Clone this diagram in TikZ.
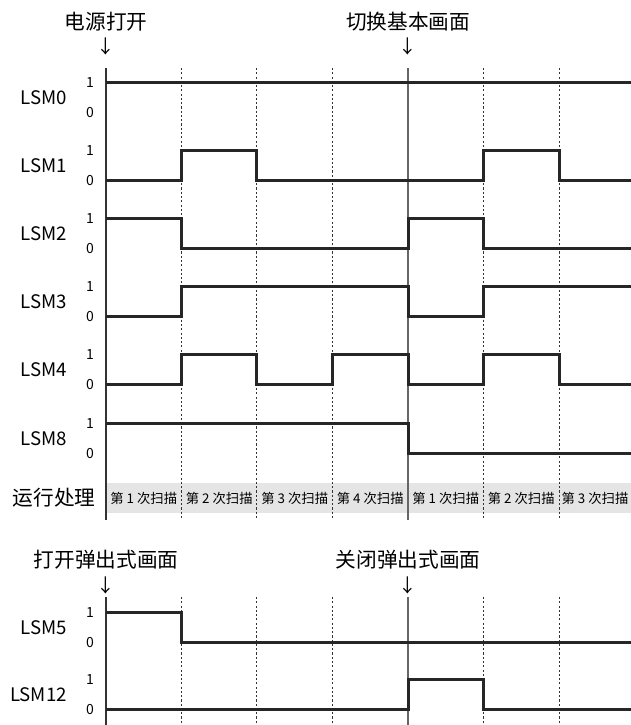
\documentclass[tikz,border=0pt]{standalone}
\usepackage{fontspec}
\setmainfont{Noto Sans CJK SC}
\usepackage{tikz}
\tikzset{
	sig/.style={line width=2.25pt, black!85},
	solidln/.style={line width=0.8pt, black!80},
	markln/.style={line width=0.9pt, black!60},
	dotln/.style={line width=0.7pt, black!80, dash pattern=on 1.6pt off 1.6pt},
	ttl/.style={font=\fontsize{15.5}{18}\selectfont, inner sep=0pt},
	arr/.style={font=\fontsize{14}{16}\selectfont, inner sep=0pt},
	nm/.style={font=\fontsize{14}{16}\selectfont, anchor=east, inner sep=0pt},
	lvl/.style={font=\fontsize{10.5}{12}\selectfont, inner sep=0pt},
	scan/.style={font=\fontsize{10}{12}\selectfont, inner sep=0pt},
	band/.style={fill=black!10, draw=none},
}
\newcommand{\lvhi}{0}
\newcommand{\lvlo}{30}
% one signal row: name, y of the 1 level, start level, list of x/level
\newcommand{\sigrow}[4]{%
	\begin{scope}[shift={(0,#2)}]
		\node[nm] (n#1) at (67,15) {#1};
		\node[lvl] (h#1) at (90,\lvhi) {1};
		\node[lvl] (z#1) at (90,\lvlo) {0};
		\draw[sig] (106,#3) \foreach \xx/\yy in {#4} { -| (\xx,\yy) };
	\end{scope}}

\begin{document}
\begin{tikzpicture}[x=0.75pt, y=-0.75pt]
	\useasboundingbox (0,0) rectangle (631,725);

	% titles and marks
	\node[ttl] (pwr) at (106,22) {电源打开};
	\node[arr] (pwrar) at (106,46) {↓};
	\node[ttl] (base) at (408,22) {切换基本画面};
	\node[arr] (basear) at (408,46) {↓};
	\node[ttl] (popon) at (106,560) {打开弹出式画面};
	\node[arr] (poponar) at (106,585) {↓};
	\node[ttl] (popoff) at (408,560) {关闭弹出式画面};
	\node[arr] (popoffar) at (408,585) {↓};

	% scan band
	\fill[band] (106,483) rectangle (631,513);
	\node[ttl] (run) at (54,498) {运行处理};
	\foreach \c/\t [count=\i] in {143.75/1,219.25/2,294.75/3,370.25/4,445.75/1,521.25/2,595/3}
		\node[scan] (scan\i) at (\c,498) {第 \t{} 次扫描};

	% grid
	\foreach \x in {181.5,256.5,332.5,483.5,559.5} {
		\draw[dotln] (\x,68) -- (\x,520);
		\draw[dotln] (\x,597) -- (\x,725);
	}
	\draw[solidln] (106,68) -- (106,520);
	\draw[solidln] (106,597) -- (106,725);
	\draw[markln] (408,68) -- (408,520);
	\draw[markln] (408,597) -- (408,725);

	% signals
	\sigrow{LSM0}{82.5}{\lvhi}{631/\lvhi}
	\sigrow{LSM1}{150.5}{\lvlo}{181.5/\lvhi,256.5/\lvlo,483.5/\lvhi,559.5/\lvlo,631/\lvlo}
	\sigrow{LSM2}{218.5}{\lvhi}{181.5/\lvlo,408/\lvhi,483.5/\lvlo,631/\lvlo}
	\sigrow{LSM3}{286.5}{\lvlo}{181.5/\lvhi,408/\lvlo,483.5/\lvhi,631/\lvhi}
	\sigrow{LSM4}{354.5}{\lvlo}{181.5/\lvhi,256.5/\lvlo,332.5/\lvhi,408/\lvlo,483.5/\lvhi,559.5/\lvlo,631/\lvlo}
	\sigrow{LSM8}{423.5}{\lvhi}{408/\lvlo,631/\lvlo}
	\sigrow{LSM5}{612.5}{\lvhi}{181.5/\lvlo,631/\lvlo}
	\sigrow{LSM12}{679.5}{\lvlo}{408/\lvhi,483.5/\lvlo,631/\lvlo}
\end{tikzpicture}
\end{document}
